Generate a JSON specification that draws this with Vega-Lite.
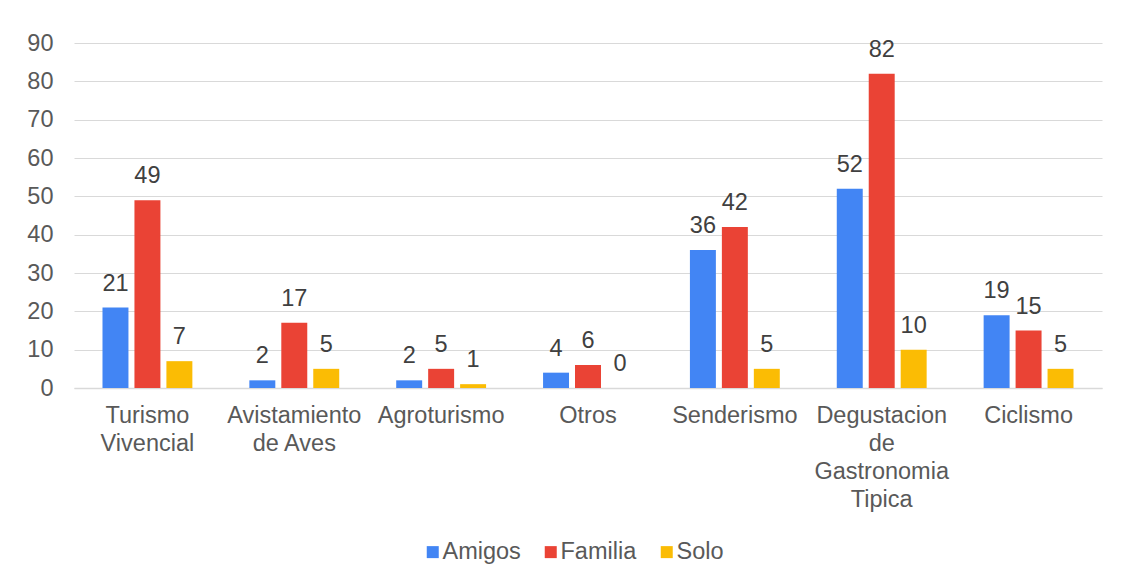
{
  "$schema": "https://vega.github.io/schema/vega-lite/v6.json",
  "width": 1028,
  "height": 345,
  "autosize": {"type": "none"},
  "padding": {"left": 74, "top": 43, "right": 26, "bottom": 189},
  "background": "white",
  "config": {
    "font": "Liberation Sans",
    "view": {"stroke": null},
    "axis": {"labelFont": "Liberation Sans", "labelFontSize": 23.5, "labelColor": "#595959", "ticks": false, "tickSize": 0, "title": null}
  },
  "data": {
    "values": [
      {"category": "Turismo Vivencial", "serie": "Amigos", "value": 21},
      {"category": "Turismo Vivencial", "serie": "Familia", "value": 49},
      {"category": "Turismo Vivencial", "serie": "Solo", "value": 7},
      {"category": "Avistamiento de Aves", "serie": "Amigos", "value": 2},
      {"category": "Avistamiento de Aves", "serie": "Familia", "value": 17},
      {"category": "Avistamiento de Aves", "serie": "Solo", "value": 5},
      {"category": "Agroturismo", "serie": "Amigos", "value": 2},
      {"category": "Agroturismo", "serie": "Familia", "value": 5},
      {"category": "Agroturismo", "serie": "Solo", "value": 1},
      {"category": "Otros", "serie": "Amigos", "value": 4},
      {"category": "Otros", "serie": "Familia", "value": 6},
      {"category": "Otros", "serie": "Solo", "value": 0},
      {"category": "Senderismo", "serie": "Amigos", "value": 36},
      {"category": "Senderismo", "serie": "Familia", "value": 42},
      {"category": "Senderismo", "serie": "Solo", "value": 5},
      {"category": "Degustacion de Gastronomia Tipica", "serie": "Amigos", "value": 52},
      {"category": "Degustacion de Gastronomia Tipica", "serie": "Familia", "value": 82},
      {"category": "Degustacion de Gastronomia Tipica", "serie": "Solo", "value": 10},
      {"category": "Ciclismo", "serie": "Amigos", "value": 19},
      {"category": "Ciclismo", "serie": "Familia", "value": 15},
      {"category": "Ciclismo", "serie": "Solo", "value": 5}
    ]
  },
  "encoding": {
    "x": {
      "field": "category",
      "type": "nominal",
      "sort": null,
      "scale": {"paddingInner": 0.388, "paddingOuter": 0.194},
      "axis": {
        "labelAngle": 0,
        "labelPadding": 15,
        "labelLineHeight": 28,
        "labelLimit": 300,
        "domain": true,
        "domainColor": "#d9d9d9",
        "domainWidth": 1.5,
        "grid": false,
        "labelExpr": "datum.label == 'Avistamiento de Aves' ? ['Avistamiento', 'de Aves'] : split(datum.label, ' ')"
      }
    },
    "xOffset": {
      "field": "serie",
      "type": "nominal",
      "sort": ["Amigos", "Familia", "Solo"],
      "scale": {"paddingInner": 0.1875, "paddingOuter": 0}
    },
    "y": {
      "field": "value",
      "type": "quantitative",
      "scale": {"domain": [0, 90]},
      "axis": {
        "values": [0, 10, 20, 30, 40, 50, 60, 70, 80, 90],
        "domain": false,
        "grid": true,
        "gridColor": "#d9d9d9",
        "gridWidth": 1.2,
        "labelPadding": 21
      }
    }
  },
  "layer": [
    {
      "mark": {"type": "bar"},
      "encoding": {
        "color": {
          "field": "serie",
          "type": "nominal",
          "sort": ["Amigos", "Familia", "Solo"],
          "scale": {"domain": ["Amigos", "Familia", "Solo"], "range": ["#4285F4", "#EA4335", "#FBBC04"]},
          "legend": {
            "orient": "none",
            "legendX": 347,
            "legendY": 497,
            "direction": "horizontal",
            "title": null,
            "symbolType": "square",
            "symbolSize": 144,
            "symbolStrokeWidth": 0,
            "labelFont": "Liberation Sans",
            "labelFontSize": 23.5,
            "labelColor": "#595959",
            "labelOffset": -2,
            "columnPadding": 18,
            "padding": 0
          }
        }
      }
    },
    {
      "mark": {"type": "text", "baseline": "alphabetic", "dy": -17, "fontSize": 23.5, "font": "Liberation Sans", "color": "#404040"},
      "encoding": {
        "text": {"field": "value", "type": "quantitative"}
      }
    }
  ]
}
